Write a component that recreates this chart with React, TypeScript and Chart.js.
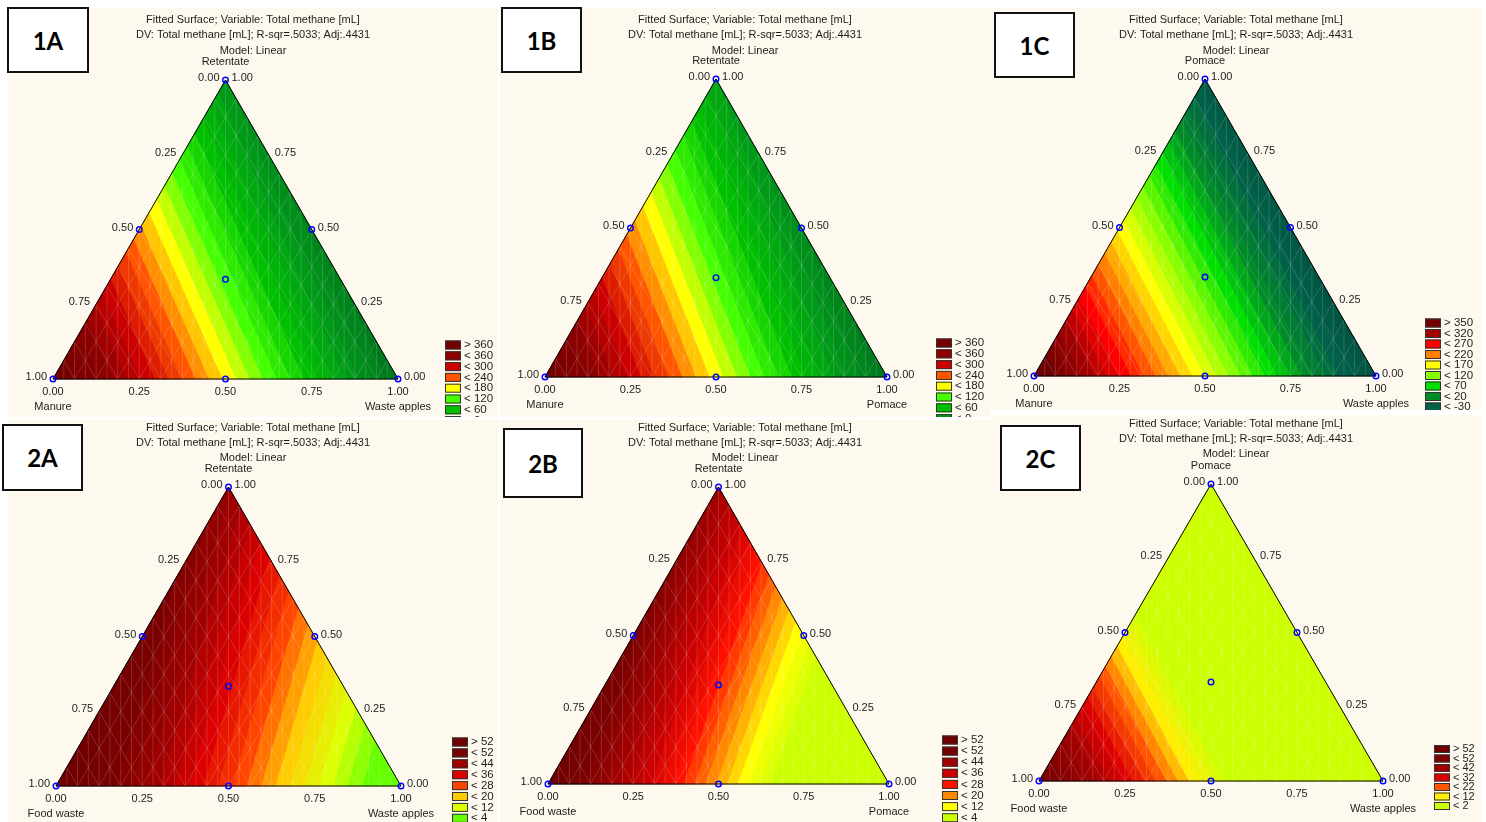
import { useEffect, useRef } from "react";
import { Chart, registerables } from "chart.js";

Chart.register(...registerables);

// Header lines shared by every panel
const TITLE_LINES = [
  "Fitted Surface; Variable: Total methane [mL]",
  "DV: Total methane [mL]; R-sqr=.5033; Adj:.4431",
  "Model: Linear",
];
const AXIS_TICKS = [0, 0.25, 0.5, 0.75, 1];

// Mixture design points as (left, right, top) proportions
const DESIGN_LEFT = [1, 0, 0, 0.5, 0.5, 0, 1 / 3];
const DESIGN_RIGHT = [0, 1, 0, 0.5, 0, 0.5, 1 / 3];
const DESIGN_TOP = [0, 0, 1, 0, 0.5, 0.5, 1 / 3];

// 1A — Manure / Waste apples / Retentate
const COMPONENTS_1A = ["Manure", "Waste apples", "Retentate"];
const COEFFICIENTS_1A = [410, -100, -40];
const LEGEND_LABELS_1A = ["> 360", "< 360", "< 300", "< 240", "< 180", "< 120", "< 60", "< 0", "< -60"];
const LEGEND_BOUNDS_1A = [360, 300, 240, 180, 120, 60, 0, -60];
const LEGEND_COLORS_1A = ["#750000", "#8c0000", "#cc0000", "#ff5500", "#ffff00", "#44ff00", "#00c000", "#009a18", "#007a1e"];

// 1B — Manure / Pomace / Retentate
const COMPONENTS_1B = ["Manure", "Pomace", "Retentate"];
const COEFFICIENTS_1B = [400, -100, -20];
const LEGEND_LABELS_1B = ["> 360", "< 360", "< 300", "< 240", "< 180", "< 120", "< 60", "< 0", "< -60"];
const LEGEND_BOUNDS_1B = [360, 300, 240, 180, 120, 60, 0, -60];
const LEGEND_COLORS_1B = ["#750000", "#8c0000", "#cc0000", "#ff5500", "#ffff00", "#44ff00", "#00c000", "#009a18", "#007a1e"];

// 1C — Manure / Waste apples / Pomace
const COMPONENTS_1C = ["Manure", "Waste apples", "Pomace"];
const COEFFICIENTS_1C = [370, -100, -75];
const LEGEND_LABELS_1C = ["> 350", "< 320", "< 270", "< 220", "< 170", "< 120", "< 70", "< 20", "< -30", "< -80"];
const LEGEND_BOUNDS_1C = [320, 270, 220, 170, 120, 70, 20, -30, -80];
const LEGEND_COLORS_1C = ["#700000", "#a00000", "#ff0000", "#ff8000", "#ffff00", "#88ff00", "#00e000", "#008a28", "#006048", "#005040"];

// 2A — Food waste / Waste apples / Retentate
const COMPONENTS_2A = ["Food waste", "Waste apples", "Retentate"];
const COEFFICIENTS_2A = [58, -6, 42];
const LEGEND_LABELS_2A = ["> 52", "< 52", "< 44", "< 36", "< 28", "< 20", "< 12", "< 4"];
const LEGEND_BOUNDS_2A = [52, 44, 36, 28, 20, 12, 4];
const LEGEND_COLORS_2A = ["#700000", "#7a0000", "#a00000", "#dd0000", "#ff4400", "#ffcc00", "#ddff00", "#66ff00"];

// 2B — Food waste / Pomace / Retentate
const COMPONENTS_2B = ["Food waste", "Pomace", "Retentate"];
const COEFFICIENTS_2B = [56, -28, 40];
const LEGEND_LABELS_2B = ["> 52", "< 52", "< 44", "< 36", "< 28", "< 20", "< 12", "< 4"];
const LEGEND_BOUNDS_2B = [52, 44, 36, 28, 20, 12, 4];
const LEGEND_COLORS_2B = ["#700000", "#7a0000", "#a00000", "#cc0000", "#ff1100", "#ff8800", "#ffff00", "#ccff00"];

// 2C — Food waste / Waste apples / Pomace
const COMPONENTS_2C = ["Food waste", "Waste apples", "Pomace"];
const COEFFICIENTS_2C = [53, -49, -45];
const LEGEND_LABELS_2C = ["> 52", "< 52", "< 42", "< 32", "< 22", "< 12", "< 2"];
const LEGEND_BOUNDS_2C = [52, 42, 32, 22, 12, 2];
const LEGEND_COLORS_2C = ["#700000", "#800000", "#a00000", "#dd0000", "#ff5500", "#ffee00", "#ccff00"];

type Spec = {
  tag: string;
  components: string[];
  coefficients: number[];
  labels: string[];
  bounds: number[];
  colors: string[];
};

const SPECS: Spec[] = [
  { tag: "1A", components: COMPONENTS_1A, coefficients: COEFFICIENTS_1A, labels: LEGEND_LABELS_1A, bounds: LEGEND_BOUNDS_1A, colors: LEGEND_COLORS_1A },
  { tag: "1B", components: COMPONENTS_1B, coefficients: COEFFICIENTS_1B, labels: LEGEND_LABELS_1B, bounds: LEGEND_BOUNDS_1B, colors: LEGEND_COLORS_1B },
  { tag: "1C", components: COMPONENTS_1C, coefficients: COEFFICIENTS_1C, labels: LEGEND_LABELS_1C, bounds: LEGEND_BOUNDS_1C, colors: LEGEND_COLORS_1C },
  { tag: "2A", components: COMPONENTS_2A, coefficients: COEFFICIENTS_2A, labels: LEGEND_LABELS_2A, bounds: LEGEND_BOUNDS_2A, colors: LEGEND_COLORS_2A },
  { tag: "2B", components: COMPONENTS_2B, coefficients: COEFFICIENTS_2B, labels: LEGEND_LABELS_2B, bounds: LEGEND_BOUNDS_2B, colors: LEGEND_COLORS_2B },
  { tag: "2C", components: COMPONENTS_2C, coefficients: COEFFICIENTS_2C, labels: LEGEND_LABELS_2C, bounds: LEGEND_BOUNDS_2C, colors: LEGEND_COLORS_2C },
];

type Layout = {
  box: { x: number; y: number; w: number; h: number };
  tri: { left: number; right: number; top: number; base: number };
  titleY: number;
  titleGap: number;
  legend: { x: number; y: number; gap: number; sh: number; font: number };
  tag: { x: number; y: number; w: number; h: number };
};

const LAYOUTS: Layout[] = [
  { box: { x: 8, y: 8, w: 490, h: 409 }, tri: { left: 53, right: 398, top: 80, base: 379 }, titleY: 20, titleGap: 15.3, legend: { x: 445, y: 345, gap: 10.8, sh: 9, font: 11.5 }, tag: { x: 7, y: 7, w: 82, h: 66 } },
  { box: { x: 500, y: 8, w: 490, h: 409 }, tri: { left: 545, right: 887, top: 79, base: 377 }, titleY: 20, titleGap: 15.3, legend: { x: 936, y: 343, gap: 10.8, sh: 9, font: 11.5 }, tag: { x: 501, y: 7, w: 81, h: 66 } },
  { box: { x: 990, y: 8, w: 492, h: 402 }, tri: { left: 1034, right: 1376, top: 79, base: 376 }, titleY: 20, titleGap: 15.3, legend: { x: 1425, y: 323, gap: 10.5, sh: 9, font: 11.5 }, tag: { x: 994, y: 12, w: 81, h: 66 } },
  { box: { x: 8, y: 420, w: 490, h: 402 }, tri: { left: 56, right: 401, top: 487, base: 786 }, titleY: 428, titleGap: 15, legend: { x: 452, y: 742, gap: 10.9, sh: 9, font: 11.5 }, tag: { x: 2, y: 424, w: 81, h: 67 } },
  { box: { x: 500, y: 420, w: 490, h: 402 }, tri: { left: 548, right: 889, top: 487, base: 784 }, titleY: 428, titleGap: 15, legend: { x: 942, y: 740, gap: 11.1, sh: 9, font: 11.5 }, tag: { x: 503, y: 428, w: 80, h: 70 } },
  { box: { x: 990, y: 415, w: 492, h: 407 }, tri: { left: 1039, right: 1383, top: 484, base: 781 }, titleY: 424, titleGap: 15, legend: { x: 1434, y: 749, gap: 9.5, sh: 8, font: 11 }, tag: { x: 1000, y: 425, w: 81, h: 66 } },
];

const PANEL_BG = "#fdf9ef";
const TEXT_FONT = '"Liberation Sans", Arial, sans-serif';

type Bary = number[];

function hexToRgb(h: string): number[] {
  const n = parseInt(h.slice(1), 16);
  return [(n >> 16) & 255, (n >> 8) & 255, n & 255];
}

// Continuous colour ramp anchored at the middle of each legend class
function buildRamp(bounds: number[], colors: string[]) {
  const step = bounds[0] - bounds[1];
  const anchors = colors
    .map((c, i) => {
      let v: number;
      if (i === 0) v = bounds[0] + step / 2;
      else if (i === colors.length - 1) v = bounds[i - 1] - step / 2;
      else v = (bounds[i - 1] + bounds[i]) / 2;
      return { v, rgb: hexToRgb(c) };
    })
    .sort((a, b) => a.v - b.v);
  return (val: number) => {
    let rgb = anchors[anchors.length - 1].rgb;
    if (val <= anchors[0].v) rgb = anchors[0].rgb;
    else {
      for (let i = 1; i < anchors.length; i++) {
        if (val <= anchors[i].v) {
          const a = anchors[i - 1];
          const b = anchors[i];
          const t = (val - a.v) / (b.v - a.v);
          rgb = a.rgb.map((c, k) => Math.round(c + (b.rgb[k] - c) * t));
          break;
        }
      }
    }
    return `rgb(${rgb[0]},${rgb[1]},${rgb[2]})`;
  };
}

// Keep the part of a polygon where g >= 0 (Sutherland–Hodgman, one half-plane)
function clipPoly(poly: Bary[], g: (p: Bary) => number): Bary[] {
  const out: Bary[] = [];
  for (let i = 0; i < poly.length; i++) {
    const a = poly[i];
    const b = poly[(i + 1) % poly.length];
    const ga = g(a);
    const gb = g(b);
    if (ga >= 0) out.push(a);
    if (ga >= 0 !== gb >= 0) {
      const t = ga / (ga - gb);
      out.push(a.map((v, k) => v + t * (b[k] - v)));
    }
  }
  return out;
}

function surfacePlugin(spec: Spec, layout: Layout) {
  const ramp = buildRamp(spec.bounds, spec.colors);
  const coef = spec.coefficients;
  const f = (p: Bary) => coef[0] * p[0] + coef[1] * p[1] + coef[2] * p[2];
  const fine = (spec.bounds[0] - spec.bounds[1]) / 3;

  const toPx = (chart: any, p: Bary) => {
    const xs = chart.scales.x;
    const ys = chart.scales.y;
    return [xs.getPixelForValue(p[1] + p[2] / 2), ys.getPixelForValue(p[2])];
  };

  return {
    id: "ternarySurface" + spec.tag,
    beforeDatasetsDraw(chart: any) {
      const ctx: CanvasRenderingContext2D = chart.ctx;
      const corners: Bary[] = [[1, 0, 0], [0, 1, 0], [0, 0, 1]];
      const vals = corners.map(f);
      const lo = Math.min(...vals);
      const hi = Math.max(...vals);
      const b0 = spec.bounds[0];
      const kMin = Math.floor((lo - b0) / fine) - 1;
      const kMax = Math.ceil((hi - b0) / fine) + 1;

      ctx.save();
      for (let k = kMin; k <= kMax; k++) {
        const a = b0 + k * fine;
        const b = a + fine;
        let poly = clipPoly(corners, (p) => f(p) - a);
        poly = clipPoly(poly, (p) => b - f(p));
        if (poly.length < 3) continue;
        const col = ramp((a + b) / 2);
        ctx.beginPath();
        poly.forEach((p, i) => {
          const [x, y] = toPx(chart, p);
          if (i === 0) ctx.moveTo(x, y);
          else ctx.lineTo(x, y);
        });
        ctx.closePath();
        ctx.fillStyle = col;
        ctx.strokeStyle = col;
        ctx.lineWidth = 0.8;
        ctx.fill();
        ctx.stroke();
      }

      // faint triangulation mesh of the fitted surface
      const tri = new Path2D();
      corners.forEach((p, i) => {
        const [x, y] = toPx(chart, p);
        if (i === 0) tri.moveTo(x, y);
        else tri.lineTo(x, y);
      });
      tri.closePath();
      ctx.save();
      ctx.clip(tri);
      ctx.strokeStyle = "rgba(255,255,255,0.2)";
      ctx.lineWidth = 0.8;
      const n = 16;
      ctx.beginPath();
      for (let i = 1; i < n; i++) {
        const v = i / n;
        let [x1, y1] = toPx(chart, [1 - v, v, 0]);
        let [x2, y2] = toPx(chart, [0, v, 1 - v]);
        ctx.moveTo(x1, y1);
        ctx.lineTo(x2, y2);
        [x1, y1] = toPx(chart, [v, 1 - v, 0]);
        [x2, y2] = toPx(chart, [v, 0, 1 - v]);
        ctx.moveTo(x1, y1);
        ctx.lineTo(x2, y2);
      }
      const xs = chart.scales.x;
      const ys = chart.scales.y;
      for (let m = 1; m < 2 * n; m++) {
        const xn = m / (2 * n);
        const tmax = xn < 0.5 ? 2 * xn : 2 * (1 - xn);
        const px = xs.getPixelForValue(xn);
        ctx.moveTo(px, ys.getPixelForValue(0));
        ctx.lineTo(px, ys.getPixelForValue(tmax));
      }
      ctx.stroke();
      ctx.restore();

      ctx.strokeStyle = "#000";
      ctx.lineWidth = 1;
      ctx.stroke(tri);
      ctx.restore();
    },
    afterDraw(chart: any) {
      const ctx: CanvasRenderingContext2D = chart.ctx;
      const ox = layout.box.x;
      const oy = layout.box.y;
      ctx.save();
      ctx.fillStyle = "#1e1e1e";

      // header
      ctx.font = `11px ${TEXT_FONT}`;
      ctx.textAlign = "center";
      ctx.textBaseline = "middle";
      TITLE_LINES.forEach((line, i) => {
        ctx.fillText(line, layout.box.w / 2, layout.titleY - oy + i * layout.titleGap);
      });

      // ternary axis labels
      ctx.font = `11px ${TEXT_FONT}`;
      AXIS_TICKS.forEach((v) => {
        const txt = v.toFixed(2);
        let [x, y] = toPx(chart, [v, 0, 1 - v]);
        ctx.textAlign = "right";
        ctx.fillText(txt, x - 6, y - 2);
        [x, y] = toPx(chart, [0, 1 - v, v]);
        ctx.textAlign = "left";
        ctx.fillText(txt, x + 6, y - 2);
        [x, y] = toPx(chart, [1 - v, v, 0]);
        ctx.textAlign = "center";
        ctx.fillText(txt, x, y + 13);
      });

      // component names
      ctx.textAlign = "center";
      let [x, y] = toPx(chart, [1, 0, 0]);
      ctx.fillText(spec.components[0], x, y + 28);
      [x, y] = toPx(chart, [0, 1, 0]);
      ctx.fillText(spec.components[1], x, y + 28);
      [x, y] = toPx(chart, [0, 0, 1]);
      ctx.fillText(spec.components[2], x, y - 18);

      // colour legend
      const lg = layout.legend;
      ctx.font = `${lg.font}px ${TEXT_FONT}`;
      ctx.textAlign = "left";
      spec.labels.forEach((label, i) => {
        const cy = lg.y - oy + i * lg.gap;
        const lx = lg.x - ox;
        ctx.fillStyle = spec.colors[i];
        ctx.fillRect(lx, cy - lg.sh / 2, 16, lg.sh);
        ctx.strokeStyle = "#333";
        ctx.lineWidth = 1;
        ctx.strokeRect(lx + 0.5, cy - lg.sh / 2 + 0.5, 15, lg.sh - 1);
        ctx.fillStyle = "#1e1e1e";
        ctx.fillText(label, lx + 19, cy);
      });
      ctx.restore();
    },
  };
}

function TernaryPanel({ spec, layout }: { spec: Spec; layout: Layout }) {
  const ref = useRef<HTMLCanvasElement>(null);
  const { box, tri, tag } = layout;

  useEffect(() => {
    const canvas = ref.current;
    if (!canvas) return;
    const points = DESIGN_LEFT.map((_, i) => ({
      x: DESIGN_RIGHT[i] + DESIGN_TOP[i] / 2,
      y: DESIGN_TOP[i],
    }));
    const chart = new Chart(canvas, {
      type: "scatter",
      data: {
        datasets: [
          {
            data: points,
            pointRadius: 2.8,
            pointBorderColor: "#0000ff",
            pointBackgroundColor: "rgba(0,0,0,0)",
            pointBorderWidth: 1.4,
            clip: false,
          } as any,
        ],
      },
      options: {
        responsive: false,
        animation: false,
        devicePixelRatio: 1,
        events: [],
        layout: {
          padding: {
            left: tri.left - box.x,
            right: box.x + box.w - tri.right,
            top: tri.top - box.y,
            bottom: box.y + box.h - tri.base,
          },
        },
        scales: {
          x: { type: "linear", min: 0, max: 1, display: false },
          y: { type: "linear", min: 0, max: 1, display: false },
        },
        plugins: { legend: { display: false }, tooltip: { enabled: false } },
      },
      plugins: [surfacePlugin(spec, layout)],
    });
    return () => chart.destroy();
  }, [spec, layout]);

  return (
    <>
      <canvas
        ref={ref}
        width={box.w}
        height={box.h}
        style={{ position: "absolute", left: box.x, top: box.y, width: box.w, height: box.h, background: PANEL_BG }}
      />
      <div
        style={{
          position: "absolute",
          left: tag.x,
          top: tag.y,
          width: tag.w,
          height: tag.h,
          boxSizing: "border-box",
          border: "2px solid #111",
          background: "#fff",
          display: "flex",
          alignItems: "center",
          justifyContent: "center",
          font: 'bold 24px Lato, "Open Sans", sans-serif',
          color: "#000",
        }}
      >
        {spec.tag}
      </div>
    </>
  );
}

export default function App() {
  return (
    <div style={{ position: "absolute", left: 0, top: 0, width: 1486, height: 822, background: "#fff", overflow: "hidden" }}>
      {SPECS.map((spec, i) => (
        <TernaryPanel key={spec.tag} spec={spec} layout={LAYOUTS[i]} />
      ))}
    </div>
  );
}
